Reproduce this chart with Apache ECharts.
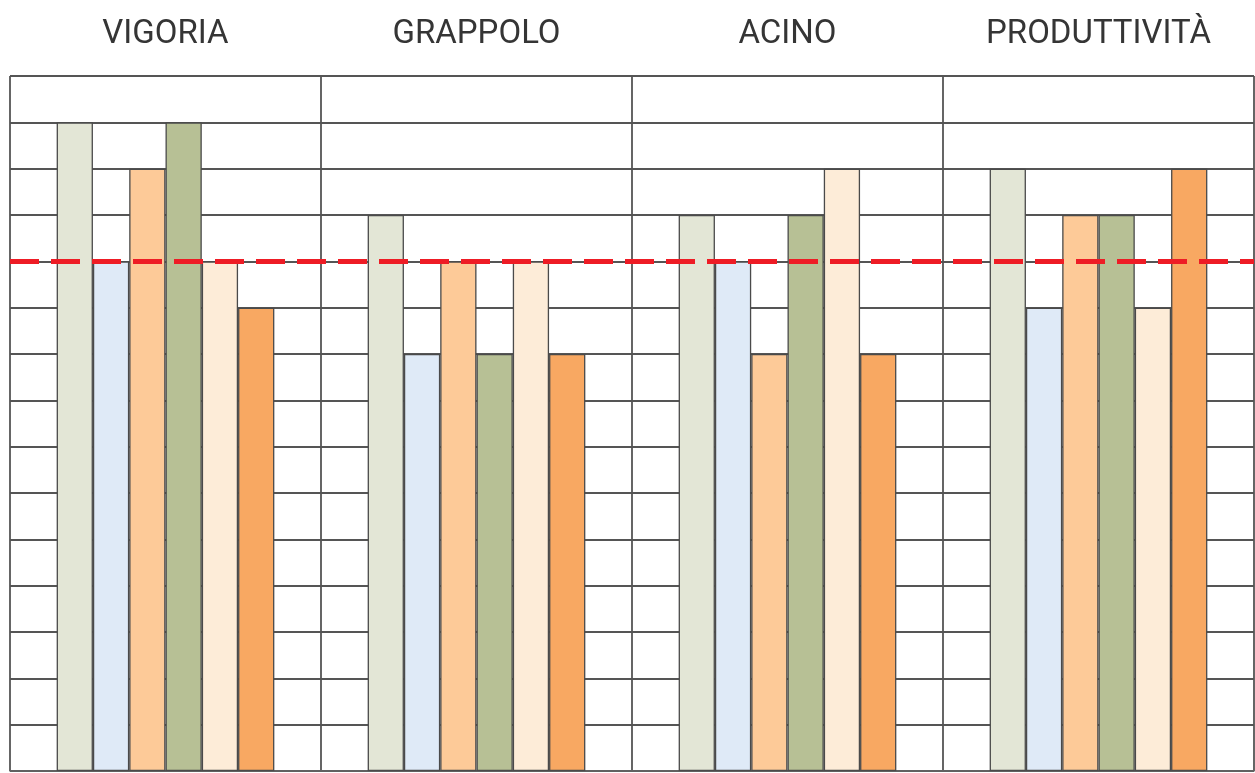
<!DOCTYPE html>
<html>
<head>
<meta charset="utf-8">
<script src="https://cdn.jsdelivr.net/npm/echarts@6/dist/echarts.min.js"></script>
<style>
  html, body { margin: 0; padding: 0; background: #fff; }
  #chart { width: 1255px; height: 773px; }
</style>
</head>
<body>
<div id="chart"></div>
<script>
// Trait groups shown along the top
const categories = ['VIGORIA', 'GRAPPOLO', 'ACINO', 'PRODUTTIVITÀ'];

// Scores of the six varieties for each trait
const serie1 = [14, 12, 12, 13];
const serie2 = [11, 9, 11, 10];
const serie3 = [13, 11, 9, 12];
const serie4 = [14, 9, 12, 12];
const serie5 = [11, 11, 13, 10];
const serie6 = [10, 9, 9, 13];

// Reference level drawn as a dashed red line
const soglia = 11;

const seriesValues = [serie1, serie2, serie3, serie4, serie5, serie6];
const colors = ['#e3e6d6', '#dfeaf7', '#fdca98', '#b7c095', '#fdecd8', '#f8a862'];

const chart = echarts.init(document.getElementById('chart'), null, { renderer: 'canvas' });

const series = seriesValues.map((vals, i) => ({
  type: 'bar',
  data: vals,
  barGap: '0%',
  barCategoryGap: '30%',
  itemStyle: { color: colors[i], borderColor: '#4a4a4a', borderWidth: 1.3 },
  silent: true,
  animation: false
}));

series[0].markLine = {
  silent: true,
  symbol: 'none',
  label: { show: false },
  lineStyle: { color: '#ee1c25', width: 5, type: [29, 12], dashOffset: 0 },
  data: [{ yAxis: soglia }],
  z: 10
};
series[0].z = 3;

chart.setOption({
  animation: false,
  grid: { left: 10, right: 1, top: 76, bottom: 2, containLabel: false },
  xAxis: {
    type: 'category',
    data: categories,
    position: 'top',
    boundaryGap: true,
    axisLine: { show: true, lineStyle: { color: '#666', width: 1.5 } },
    axisTick: { show: false },
    axisLabel: {
      margin: 25,
      fontFamily: 'Roboto',
      fontSize: 33,
      color: '#353535'
    },
    splitLine: { show: true, lineStyle: { color: '#555', width: 1.8 } }
  },
  yAxis: {
    type: 'value',
    min: 0,
    max: 15,
    interval: 1,
    axisLine: { show: false },
    axisTick: { show: false },
    axisLabel: { show: false },
    splitLine: { show: true, lineStyle: { color: '#555', width: 1.8 } }
  },
  series: series
});
</script>
</body>
</html>
